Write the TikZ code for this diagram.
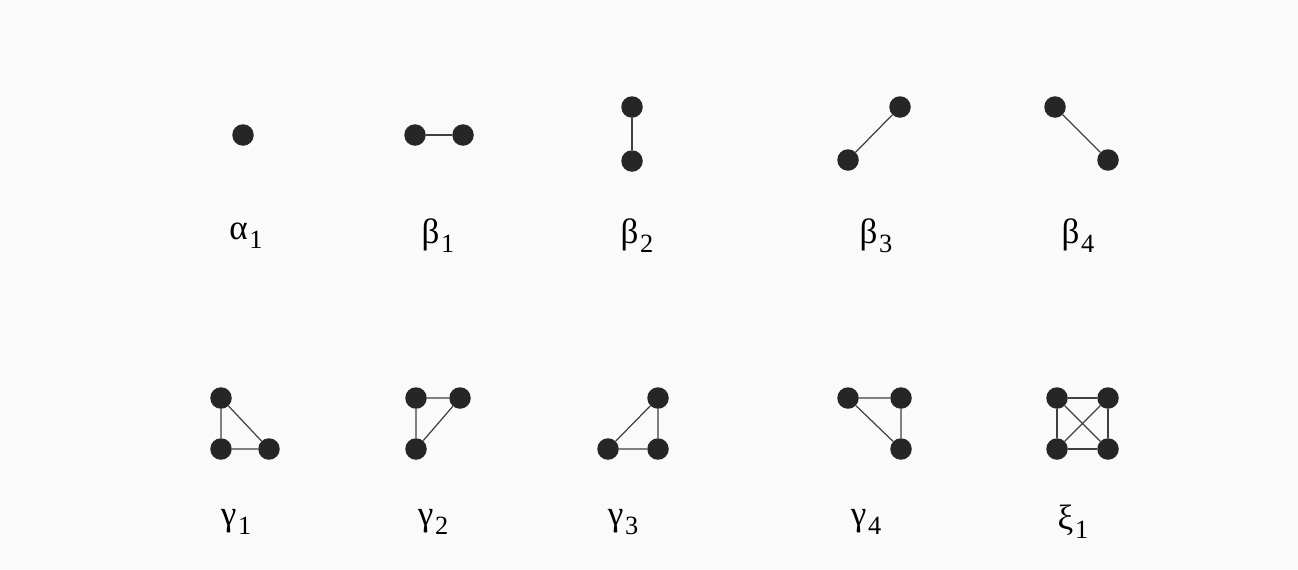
\documentclass[tikz,border=0pt]{standalone}
\usepackage{fontspec}
\setmainfont{Liberation Serif}
\usetikzlibrary{positioning}
\newcommand{\glabel}[2]{#1\kern1pt\raisebox{-0.55ex}{\fontsize{15}{15}\selectfont #2}}

\begin{document}
\begin{tikzpicture}[
  x = 0.02cm, y = -0.02cm,
  vtx/.style = {circle, fill=black!85, draw=none, minimum width=0.43cm,
    minimum height=0.41cm, inner sep=0pt},
  gname/.style = {font=\fontsize{20}{22}\selectfont, inner sep=0pt},
  edge/.style = {draw=black!75, line width=0.7pt},
]
% page
\fill[black!2] (0,0) rectangle (1298,569);
\useasboundingbox (0,0) rectangle (1298,569);

% Top row: one and two vertices
\node[vtx] (a1) at (243,135) {};
\node[vtx] (b1l) at (415,135) {};
\node[vtx] (b1r) at (463,135) {};
\node[vtx] (b2t) at (632,107) {};
\node[vtx] (b2b) at (632,161) {};
\node[vtx] (b3b) at (848,160) {};
\node[vtx] (b3t) at (900,107) {};
\node[vtx] (b4t) at (1055,107) {};
\node[vtx] (b4b) at (1108,160) {};

\draw[edge] (b1l) -- (b1r);
\draw[edge] (b2t) -- (b2b);
\draw[edge] (b3b) -- (b3t);
\draw[edge] (b4t) -- (b4b);

% Bottom row: three and four vertices
\node[vtx] (g1t)  at (221,398) {};
\node[vtx] (g1bl) at (221,449) {};
\node[vtx] (g1br) at (269,449) {};
\node[vtx] (g2tl) at (416,398) {};
\node[vtx] (g2tr) at (460,398) {};
\node[vtx] (g2bl) at (416,449) {};
\node[vtx] (g3tr) at (658,398) {};
\node[vtx] (g3bl) at (608,449) {};
\node[vtx] (g3br) at (658,449) {};
\node[vtx] (g4tl) at (848,398) {};
\node[vtx] (g4tr) at (901,398) {};
\node[vtx] (g4br) at (901,449) {};
\node[vtx] (x1tl) at (1057,398) {};
\node[vtx] (x1tr) at (1108,398) {};
\node[vtx] (x1bl) at (1057,449) {};
\node[vtx] (x1br) at (1108,449) {};

\draw[edge] (g1t) -- (g1bl) -- (g1br) -- (g1t);
\draw[edge] (g2tl) -- (g2tr) -- (g2bl) -- (g2tl);
\draw[edge] (g3tr) -- (g3br) -- (g3bl) -- (g3tr);
\draw[edge] (g4tl) -- (g4tr) -- (g4br) -- (g4tl);
\draw[edge] (x1tl) -- (x1tr) -- (x1br) -- (x1bl) -- (x1tl);
\draw[edge] (x1tl) -- (x1br);
\draw[edge] (x1tr) -- (x1bl);

% Labels
\node[gname] (la1) at (246,236) {\glabel{α}{1}};
\node[gname] (lb1) at (438,236) {\glabel{β}{1}};
\node[gname] (lb2) at (637,236) {\glabel{β}{2}};
\node[gname] (lb3) at (876,236) {\glabel{β}{3}};
\node[gname] (lb4) at (1078,236) {\glabel{β}{4}};
\node[gname] (lg1) at (236,522) {\glabel{γ}{1}};
\node[gname] (lg2) at (433,522) {\glabel{γ}{2}};
\node[gname] (lg3) at (623,522) {\glabel{γ}{3}};
\node[gname] (lg4) at (866,522) {\glabel{γ}{4}};
\node[gname] (lx1) at (1073,522) {\glabel{ξ}{1}};
\end{tikzpicture}
\end{document}
